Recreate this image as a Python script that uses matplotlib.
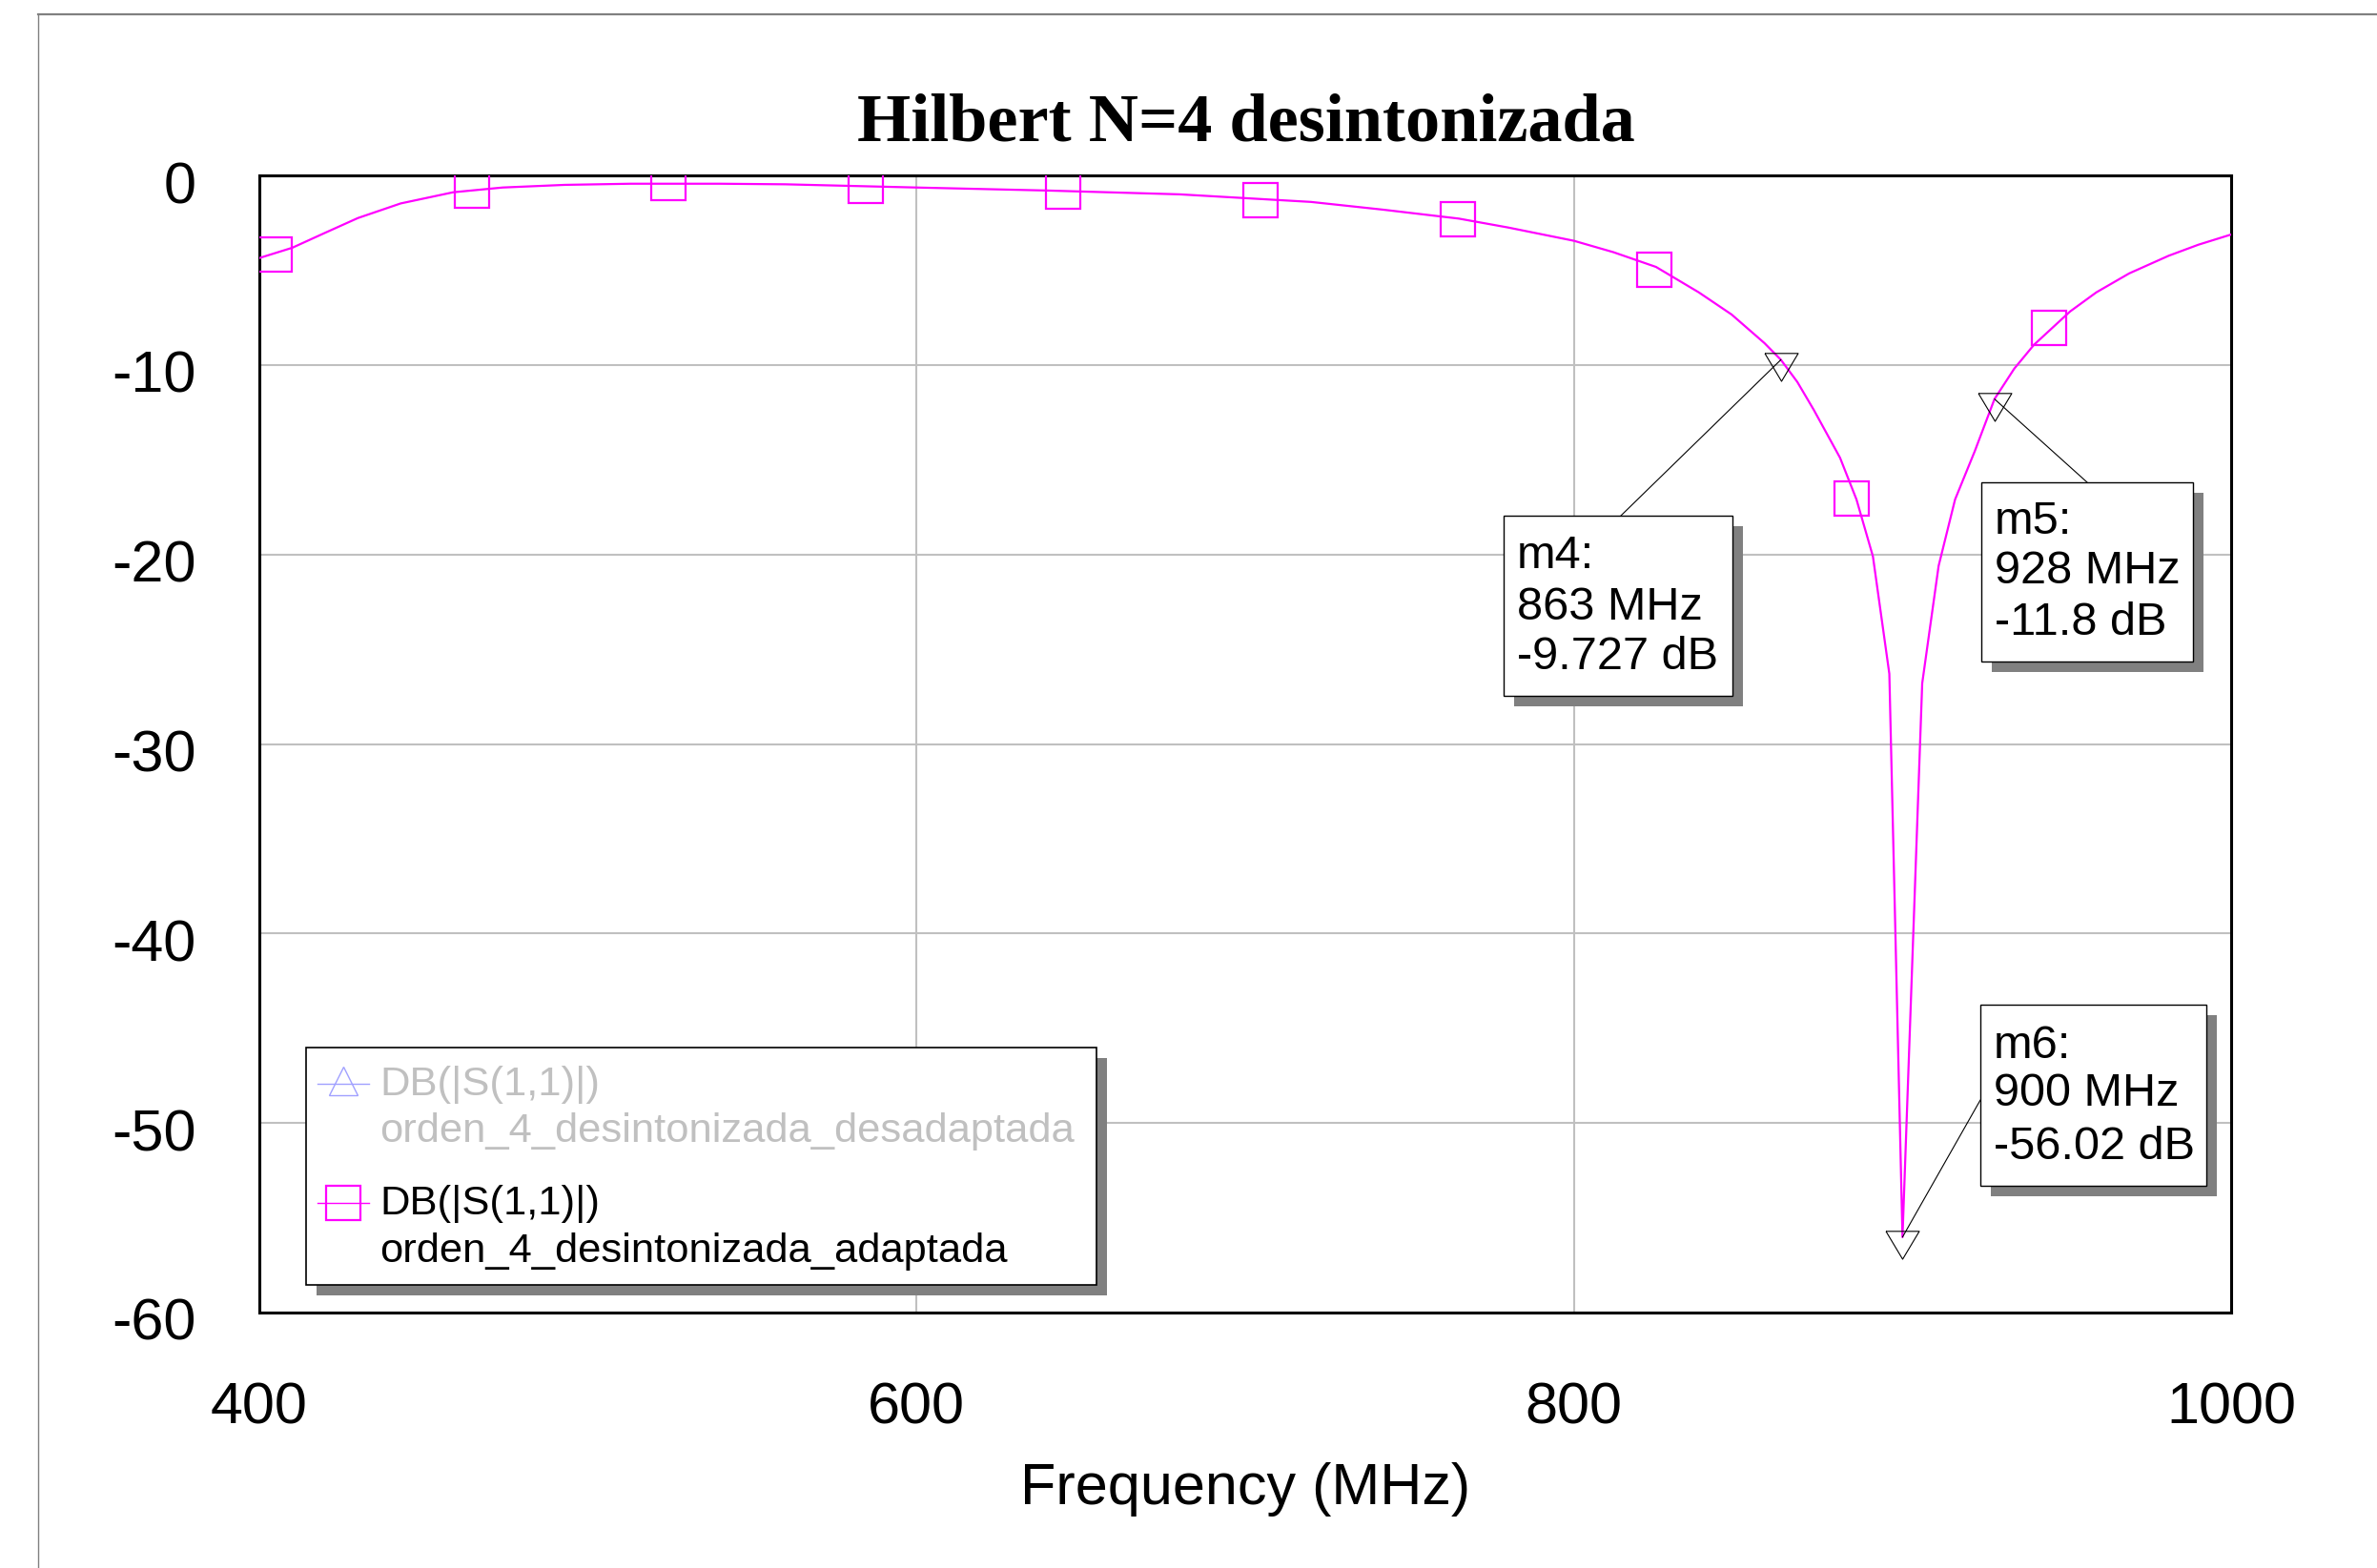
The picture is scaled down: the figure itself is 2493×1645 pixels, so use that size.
import matplotlib
matplotlib.use("Agg")
import matplotlib.pyplot as plt
from matplotlib.lines import Line2D
from matplotlib.patches import Rectangle
from matplotlib.transforms import ScaledTranslation

W, H = 2493, 1645
DPI = 100

# S11 trace of the matched filter
freq_mhz = [400, 410, 420, 430, 443, 459, 474, 493, 513, 540, 560, 600, 640, 680, 720,
            742, 765, 780, 800, 812, 825, 838, 848, 858, 863, 868, 873, 881, 886, 891,
            896, 900, 906, 911, 916, 922, 928, 934, 940, 951, 959, 969, 981, 990, 1000]
s11_db = [-4.36, -3.82, -3.03, -2.25, -1.48, -0.89, -0.64, -0.50, -0.44, -0.44, -0.47,
          -0.64, -0.80, -1.0, -1.4, -1.81, -2.28, -2.75, -3.45, -4.05, -4.83, -6.17,
          -7.34, -8.85, -9.73, -10.9, -12.37, -14.9, -17.1, -20.1, -26.3, -56.02, -26.8,
          -20.6, -17.1, -14.55, -11.8, -10.2, -8.94, -7.18, -6.17, -5.17, -4.24, -3.66,
          -3.12]

# trace symbols (open squares)
symbol_freq = [404.6, 464.6, 524.6, 584.6, 644.6, 704.6, 764.6, 824.6, 884.6, 944.6]
symbol_db = [-4.15, -0.79, -0.41, -0.53, -0.83, -1.31, -2.31, -4.98, -17.05, -8.05]

# markers
marker_names = ["m4", "m5", "m6"]
marker_freq = [863, 928, 900]
marker_db = [-9.727, -11.8, -56.02]

x_ticks = [400, 600, 800, 1000]
y_ticks = [0, -10, -20, -30, -40, -50, -60]

trace_labels = ["DB(|S(1,1)|)", "DB(|S(1,1)|)"]
trace_names = ["orden_4_desintonizada_desadaptada", "orden_4_desintonizada_adaptada"]

SANS = "Liberation Sans"
MAGENTA = "#ff00ff"


def fx(x):
    return x / W


def fy(y):
    return 1 - y / H


def shadow_box(fig, left, top, right, bottom, edge_lw=1.0):
    shadow = Rectangle((fx(left + 11), fy(bottom + 11)), fx(right - left), (bottom - top) / H,
                       transform=fig.transFigure, facecolor="#808080", edgecolor="none",
                       zorder=5)
    box = Rectangle((fx(left), fy(bottom)), fx(right - left), (bottom - top) / H,
                    transform=fig.transFigure, facecolor="white", edgecolor="black",
                    linewidth=edge_lw, zorder=6)
    fig.add_artist(shadow)
    fig.add_artist(box)


fig = plt.figure(figsize=(W / DPI, H / DPI), dpi=DPI)
fig.patch.set_facecolor("white")

# outer frame of the graph window
fig.add_artist(Line2D([fx(40), 1.0], [fy(15), fy(15)], transform=fig.transFigure,
                      color="#808080", linewidth=1.6))
fig.add_artist(Line2D([fx(40), fx(40)], [fy(15), 0.0], transform=fig.transFigure,
                      color="#808080", linewidth=1.0))

ax = fig.add_axes([fx(272), fy(1377), (2340 - 272) / W, (1377 - 184) / H])
ax.set_xlim(400, 1000)
ax.set_ylim(-60, 0)
ax.set_xticks(x_ticks)
ax.set_yticks(y_ticks)
ax.set_xticklabels([str(v) for v in x_ticks], fontsize=44, family=SANS)
ax.set_yticklabels([str(v) for v in y_ticks], fontsize=44, family=SANS)
ax.tick_params(axis="both", length=0)
ax.tick_params(axis="x", pad=52)
ax.tick_params(axis="y", pad=48)
shift = ScaledTranslation(0, -7 / DPI, fig.dpi_scale_trans)
for label in ax.get_yticklabels():
    label.set_transform(label.get_transform() + shift)
ax.grid(True, color="#c0c0c0", linewidth=1.5)
ax.set_axisbelow(True)
for spine in ax.spines.values():
    spine.set_linewidth(2.2)
    spine.set_color("black")

ax.plot(freq_mhz, s11_db, color=MAGENTA, linewidth=1.6, zorder=3)
ax.plot(symbol_freq, symbol_db, linestyle="none", marker="s", markersize=26,
        markerfacecolor="none", markeredgecolor=MAGENTA, markeredgewidth=1.6, zorder=3)

tri = [(-17.5, 6.7), (17.5, 6.7), (0, -22.6), (-17.5, 6.7)]
ax.plot(marker_freq, marker_db, linestyle="none", marker=tri, markersize=32.5,
        markerfacecolor="none", markeredgecolor="black", markeredgewidth=0.8, zorder=4)

ax.set_xlabel("Frequency (MHz)", fontsize=44, family=SANS, labelpad=20)
fig.text(fx(1307), fy(130), "Hilbert N=4 desintonizada", fontsize=52,
         family="Liberation Serif", fontweight="bold", ha="center", va="center")

# marker readout boxes: (left, top, right, bottom), leader anchor, text line y
boxes = [(1577, 541, 1817, 730), (2078, 506, 2300, 694), (2077, 1054, 2314, 1244)]
anchors = [(1700, 541), (2189, 506), (2077, 1154)]
text_rows = [(583, 637, 690), (548, 600, 653), (1097, 1148, 1204)]

for name, f, db, box, anchor, rows in zip(marker_names, marker_freq, marker_db,
                                          boxes, anchors, text_rows):
    ax.annotate("", xy=(f, db), xycoords="data",
                xytext=(fx(anchor[0]), fy(anchor[1])), textcoords="figure fraction",
                arrowprops=dict(arrowstyle="-", color="black", linewidth=0.8,
                                shrinkA=0, shrinkB=0))
    left, top, right, bottom = box
    shadow_box(fig, left, top, right, bottom)
    lines = [f"{name}:", f"{f:g} MHz", f"{db:g} dB"]
    for text, y in zip(lines, rows):
        fig.text(fx(left + 14), fy(y), text, fontsize=35, family=SANS,
                 ha="left", va="center", zorder=7)

# legend
shadow_box(fig, 321, 1099, 1150, 1348, edge_lw=1.2)
fig.add_artist(Line2D([fx(333), fx(387)], [fy(1137), fy(1137)], transform=fig.transFigure,
                      color="#a0a0ff", linewidth=1.0, zorder=7))
fig.add_artist(Line2D([fx(360)], [fy(1134)], transform=fig.transFigure, marker="^",
                      markersize=22, markerfacecolor="none", markeredgecolor="#a0a0ff",
                      markeredgewidth=1.0, zorder=7))
fig.add_artist(Line2D([fx(333), fx(387)], [fy(1262), fy(1262)], transform=fig.transFigure,
                      color=MAGENTA, linewidth=1.0, zorder=7))
fig.add_artist(Line2D([fx(360)], [fy(1262)], transform=fig.transFigure, marker="s",
                      markersize=26, markerfacecolor="none", markeredgecolor=MAGENTA,
                      markeredgewidth=1.6, zorder=7))

legend_colors = ["#c0c0c0", "black"]
legend_rows = [(1138, 1187), (1263, 1313)]
for label, name, color, rows in zip(trace_labels, trace_names, legend_colors, legend_rows):
    fig.text(fx(398), fy(rows[0]), label, fontsize=31.3, family=SANS, color=color,
             ha="left", va="center", zorder=7)
    fig.text(fx(398), fy(rows[1]), name, fontsize=31.3, family=SANS, color=color,
             ha="left", va="center", zorder=7)

fig.savefig("out.png", dpi=DPI, facecolor="white")
